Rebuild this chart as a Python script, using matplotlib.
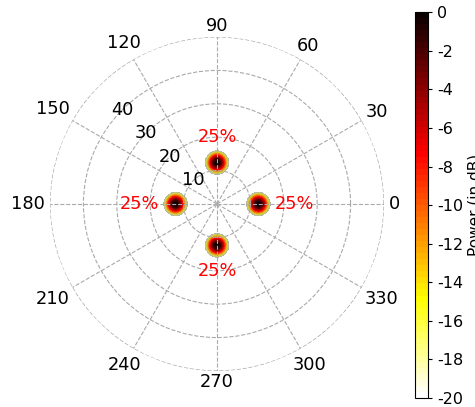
import numpy as np
import matplotlib
matplotlib.use("Agg")
import matplotlib.pyplot as plt
from matplotlib.colors import ListedColormap, Normalize
from matplotlib.cm import ScalarMappable
from matplotlib.transforms import ScaledTranslation

# sources: angle (deg), radius, share label
src_angles = [0, 90, 180, 270]
src_radius = [12.4, 12.4, 12.4, 12.4]
src_labels = ['25%', '25%', '25%', '25%']
src_width = 1.2

theta_ticks = list(range(0, 360, 30))
r_ticks = [10, 20, 30, 40, 50]
r_ticklabels = ['10', '20', '30', '40', '']
cbar_ticks = list(range(-20, 1, 2))

FS = 12.8
RMAX = 50
plt.rc('font', size=FS)
plt.rc('axes', unicode_minus=False)

fig = plt.figure(figsize=(4.75, 4.07), dpi=100)
ax = fig.add_axes([0.1053, 0.0885, 0.703, 0.8206], projection='polar')

# power map (dB)
th = np.linspace(0, 2 * np.pi, 721)
rr = np.linspace(0, RMAX, 501)
T, R = np.meshgrid(th, rr)
X, Y = R * np.cos(T), R * np.sin(T)
P = np.zeros_like(X)
for a, r0 in zip(src_angles, src_radius):
    x0, y0 = r0 * np.cos(np.radians(a)), r0 * np.sin(np.radians(a))
    P += np.exp(-((X - x0) ** 2 + (Y - y0) ** 2) / (2 * src_width ** 2))
PdB = 10 * np.log10(P + 1e-30)
PdB = np.ma.masked_less(PdB, -20)

base = plt.get_cmap('hot_r', 64)
cols = base(np.linspace(0, 1, 64))
# greyish look at the faint rim of the spots
w = np.clip(1 - np.linspace(0, 1, 64) / 0.6, 0, 1) * 0.65
cols[:, :3] = cols[:, :3] * (1 - w[:, None]) + np.array([0.55, 0.55, 0.5]) * w[:, None]
spot_cmap = ListedColormap(cols)

ax.pcolormesh(T, R, PdB, cmap=spot_cmap, vmin=-20, vmax=0, shading='auto')

ax.set_ylim(0, RMAX)
ax.set_thetagrids(theta_ticks, [''] * len(theta_ticks))
ax.set_rgrids(r_ticks, [''] * len(r_ticks))
ax.grid(True, color='#aaaaaa', linestyle='--', linewidth=0.8)
ax.spines['polar'].set_visible(False)

# radial labels along the 135 deg spoke
for r, lab in zip(r_ticks, r_ticklabels):
    ax.text(np.radians(135), r, lab, ha='center', va='center', fontsize=FS)

# angle labels just outside the outer circle (MATLAB style)
renderer = fig.canvas.get_renderer()
for t in theta_ticks:
    c, s = np.cos(np.radians(t)), np.sin(np.radians(t))
    txt = ax.text(np.radians(t), RMAX, str(t), ha='center', va='center',
                  fontsize=FS, clip_on=False)
    bb = txt.get_window_extent(renderer)
    d = 5 + abs(c) * bb.width / 2 + abs(s) * (bb.height - 6) / 2
    txt.set_transform(ax.transData + ScaledTranslation(d * c / 100, d * s / 100,
                                                       fig.dpi_scale_trans))

# share labels next to each source
for a, r0, lab in zip(src_angles, src_radius, src_labels):
    if a == 0:
        ha, va = 'left', 'center'
    elif a == 180:
        ha, va = 'right', 'center'
    elif a == 90:
        ha, va = 'center', 'bottom'
    else:
        ha, va = 'center', 'top'
    ax.text(np.radians(a), r0 + 5, lab, color='red', ha=ha, va=va, fontsize=FS)

cax = fig.add_axes([0.8737, 0.0221, 0.0274, 0.948])
sm = ScalarMappable(norm=Normalize(-20, 0), cmap=base)
cb = fig.colorbar(sm, cax=cax, ticks=cbar_ticks)
cb.outline.set_linewidth(0.8)
cb.ax.tick_params(labelsize=11.5, length=3)
cb.set_label('Power (in dB)', fontsize=11, labelpad=3)

fig.savefig('out.png', dpi=100)
